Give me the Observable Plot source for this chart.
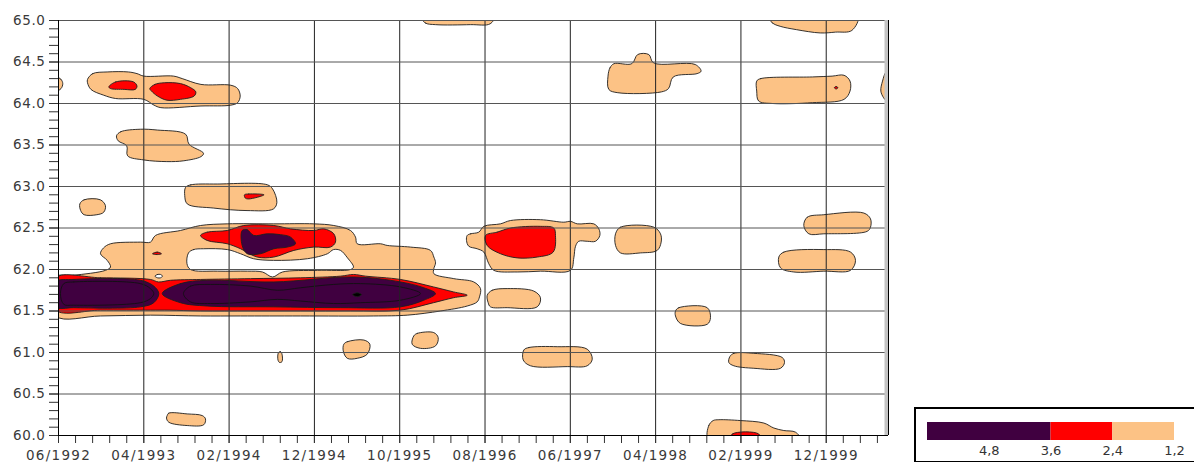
<!DOCTYPE html>
<html><head><meta charset="utf-8">
<script src="https://cdn.jsdelivr.net/npm/d3@7"></script>
<script src="https://cdn.jsdelivr.net/npm/@observablehq/plot@0.6"></script>
<style>
html,body{margin:0;padding:0;background:#fff;}
#wrap{position:relative;width:1194px;height:462px;overflow:hidden;background:#fff;}
#chart{position:absolute;left:0;top:0;}
#legend{position:absolute;left:914px;top:407px;width:300px;height:52px;border:2px solid #000;background:#fff;}
#chart g[aria-label="x-axis tick label"] text{letter-spacing:1.3px;}
#chart g[aria-label="y-axis tick label"] text{letter-spacing:0.6px;}
</style></head><body>
<div id="wrap"><div id="chart"></div><div id="legend"></div></div>
<script>
// x = months since 06/1992, y = latitude
const xTickValues = [0, 10, 20, 30, 40, 50, 60, 70, 80, 90];
const xTickLabels = ["06/1992","04/1993","02/1994","12/1994","10/1995","08/1996","06/1997","04/1998","02/1999","12/1999"];
const yTickValues = [60.0, 60.5, 61.0, 61.5, 62.0, 62.5, 63.0, 63.5, 64.0, 64.5, 65.0];
const xDomain = [0, 97.3];
const yDomain = [60, 65];

const legendBreaks = [6.0, 3.6, 2.4, 1.2];
const legendLabelValues = [4.8, 3.6, 2.4, 1.2];
const legendLabels = ["4,8", "3,6", "2,4", "1,2"];
const levelColors = ["#400040", "#ff0000", "#fcc285"]; // >3.6, 2.4-3.6, 1.2-2.4

// contour regions, level 1.2 (peach)
const level12 = [
  [[3.4,64.29],[4.0,64.36],[5.7,64.38],[8.2,64.38],[9.2,64.36],[10.0,64.33],[13.5,64.33],[14.5,64.30],[16.7,64.23],[20.2,64.22],[21.0,64.18],[21.3,64.09],[21.0,64.01],[20.2,63.98],[16.7,63.97],[12.0,63.95],[11.2,63.98],[10.0,64.05],[6.7,64.06],[5.3,64.10],[3.8,64.17],[3.4,64.25]],
  [[-0.3,64.32],[0.3,64.29],[0.5,64.24],[0.3,64.18],[-0.3,64.15]],
  [[6.8,63.61],[7.3,63.66],[9.6,63.69],[11.6,63.68],[14.9,63.63],[15.3,63.51],[17.0,63.40],[16.7,63.36],[14.7,63.31],[12.7,63.30],[10.0,63.32],[8.1,63.37],[8.0,63.49],[7.0,63.55]],
  [[14.9,62.99],[15.5,63.02],[18.6,63.03],[24.5,63.02],[25.1,62.97],[25.6,62.81],[25.2,62.73],[22.1,62.71],[18.2,62.74],[15.1,62.79],[14.8,62.89]],
  [[2.5,62.79],[3.0,62.84],[4.9,62.84],[5.5,62.77],[5.3,62.69],[4.5,62.66],[3.0,62.66],[2.6,62.71]],
  [[-0.3,61.91],[1.76,61.93],[5.51,61.99],[6.10,62.03],[5.71,62.11],[4.92,62.19],[5.28,62.26],[6.10,62.31],[9.61,62.33],[10.78,62.33],[11.37,62.41],[14.30,62.47],[16.65,62.53],[19.78,62.55],[25.24,62.55],[29.93,62.55],[32.27,62.53],[34.23,62.47],[34.82,62.39],[35.02,62.31],[37.75,62.31],[38.53,62.29],[41.27,62.27],[43.61,62.23],[44.0,62.15],[44.2,62.08],[44.0,62.01],[44.0,61.95],[46.34,61.89],[48.68,61.85],[49.47,61.77],[49.35,61.67],[49.08,61.61],[47.91,61.56],[44.78,61.50],[40.88,61.45],[36.96,61.44],[28.37,61.44],[21.34,61.44],[16.65,61.44],[10.78,61.45],[4.92,61.44],[-0.3,61.44]],
  [[47.91,62.41],[48.30,62.43],[49.27,62.45],[49.86,62.52],[51.81,62.55],[52.99,62.59],[56.50,62.60],[59.24,62.57],[60.02,62.58],[60.81,62.55],[62.75,62.55],[63.34,62.49],[63.46,62.41],[62.95,62.34],[61.98,62.34],[60.99,62.34],[60.61,62.28],[60.41,62.14],[60.02,61.99],[56.50,61.98],[53.77,61.97],[51.03,61.99],[50.44,62.07],[49.86,62.21],[49.08,62.25],[48.10,62.28],[47.83,62.35]],
  [[65.30,62.43],[65.88,62.51],[69.79,62.51],[70.57,62.43],[70.65,62.33],[70.18,62.23],[68.23,62.20],[65.88,62.20],[65.30,62.29]],
  [[87.37,62.53],[87.77,62.63],[89.72,62.66],[94.41,62.68],[95.19,62.61],[95.19,62.51],[94.80,62.46],[89.72,62.43],[87.96,62.43]],
  [[84.44,62.15],[85.03,62.21],[89.72,62.24],[92.85,62.21],[93.43,62.11],[92.85,61.99],[89.72,61.98],[86.20,61.97],[84.64,62.02]],
  [[50.26,61.69],[50.84,61.75],[52.60,61.77],[55.72,61.74],[56.50,61.66],[56.12,61.55],[52.60,61.54],[50.64,61.55],[50.37,61.60]],
  [[72.33,61.50],[72.72,61.54],[76.05,61.54],[76.43,61.42],[76.05,61.34],[72.91,61.35],[72.33,61.44]],
  [[42.5,65.05],[43.0,64.97],[44.2,64.95],[48.3,64.95],[50.6,64.96],[51.1,65.05]],
  [[83.2,65.05],[83.7,64.97],[84.6,64.93],[86.5,64.89],[89.3,64.85],[91.1,64.86],[93.0,64.88],[93.7,65.05]],
  [[64.42,64.33],[64.65,64.43],[65.12,64.48],[67.21,64.48],[67.90,64.59],[69.20,64.59],[69.75,64.49],[74.64,64.47],[75.33,64.39],[74.86,64.36],[72.07,64.32],[71.51,64.18],[70.68,64.14],[65.57,64.13],[64.51,64.17]],
  [[81.85,64.27],[82.32,64.30],[88.37,64.32],[90.69,64.33],[92.09,64.34],[92.79,64.27],[92.79,64.15],[92.09,64.05],[88.37,64.01],[83.72,64.00],[82.08,64.03],[81.85,64.15]],
  [[97.6,64.40],[97.07,64.39],[96.6,64.27],[96.4,64.15],[96.72,64.07],[97.07,64.03],[97.6,64.02]],
  [[25.79,61.00],[26.03,61.01],[26.20,60.98],[26.20,60.89],[25.91,60.88],[25.73,60.91]],
  [[33.45,61.10],[33.85,61.13],[35.80,61.15],[36.50,61.10],[36.19,60.98],[35.02,60.93],[33.85,60.93],[33.38,61.02]],
  [[41.65,61.20],[42.05,61.23],[43.99,61.24],[44.51,61.18],[44.20,61.08],[42.44,61.05],[41.46,61.10]],
  [[54.55,61.03],[55.14,61.06],[58.47,61.07],[61.98,61.04],[62.57,60.92],[61.98,60.84],[59.64,60.83],[55.33,60.84],[54.48,60.91]],
  [[78.70,60.95],[79.17,60.99],[81.51,60.99],[84.84,60.94],[85.11,60.88],[84.64,60.81],[81.51,60.81],[79.17,60.84],[78.58,60.88]],
  [[12.74,60.24],[12.93,60.27],[15.09,60.26],[16.85,60.24],[17.23,60.20],[17.03,60.13],[15.09,60.12],[12.93,60.16],[12.66,60.21]],
  [[76.23,59.95],[76.23,60.12],[76.75,60.18],[77.41,60.19],[79.95,60.18],[82.69,60.15],[83.86,60.09],[85.03,60.06],[86.40,60.04],[86.99,59.95]]
];
// regions below 1.2 enclosed by the 1.2 contour
const holes12 = [
  [[15.24,62.20],[15.83,62.24],[17.0,62.25],[19.81,62.24],[21.34,62.19],[22.86,62.13],[25.2,62.11],[29.19,62.13],[31.53,62.19],[32.24,62.24],[33.06,62.23],[33.88,62.14],[34.58,62.03],[34.23,62.00],[30.36,61.99],[26.26,61.97],[25.09,61.91],[23.91,61.97],[22.16,61.98],[18.64,61.98],[15.47,62.00],[15.06,62.07]],
  [[11.31,61.92],[11.61,61.94],[11.96,61.94],[12.19,61.92],[11.96,61.90],[11.61,61.90]]
];
// level 2.4 (red)
const level24 = [
  [[5.9,64.20],[6.7,64.26],[8.8,64.26],[9.2,64.21],[9.0,64.17],[7.7,64.17],[6.1,64.18]],
  [[10.7,64.18],[11.3,64.23],[12.4,64.25],[14.3,64.24],[15.5,64.19],[16.1,64.14],[15.9,64.09],[14.3,64.05],[12.7,64.04],[11.6,64.09],[10.9,64.15]],
  [[21.8,62.90],[22.3,62.91],[24.1,62.90],[22.3,62.85],[21.9,62.86]],
  [[-0.3,61.90],[4.92,61.90],[10.78,61.88],[11.72,61.85],[13.13,61.87],[16.65,61.88],[22.51,61.89],[28.37,61.90],[33.06,61.92],[34.58,61.94],[35.99,61.92],[40.09,61.88],[43.96,61.79],[46.31,61.73],[47.91,61.69],[46.31,61.66],[43.96,61.60],[40.09,61.51],[34.23,61.50],[28.37,61.50],[22.51,61.50],[16.65,61.50],[12.96,61.51],[10.78,61.51],[4.92,61.51],[-0.3,61.51]],
  [[16.65,62.41],[17.43,62.45],[19.78,62.47],[21.72,62.53],[25.24,62.53],[27.20,62.49],[29.93,62.47],[31.10,62.49],[32.27,62.43],[32.47,62.33],[31.88,62.27],[29.93,62.27],[27.59,62.23],[25.24,62.15],[23.29,62.15],[21.34,62.25],[19.78,62.31],[17.43,62.35]],
  [[11.02,62.19],[11.57,62.21],[12.07,62.19],[11.57,62.18]],
  [[50.06,62.41],[51.43,62.45],[52.99,62.50],[56.50,62.52],[58.06,62.50],[58.26,62.41],[57.99,62.21],[56.12,62.15],[53.77,62.14],[51.81,62.19],[50.25,62.29]],
  [[90.95,64.19],[91.16,64.205],[91.37,64.19],[91.16,64.175]],
  [[78.78,59.95],[79.01,60.02],[82.06,60.02],[82.30,59.95]]
];
// level 3.6 (purple)
const level36 = [
  [[-0.3,61.85],[1.79,61.88],[9.61,61.87],[11.17,61.80],[11.76,61.71],[11.17,61.60],[9.61,61.55],[1.79,61.54],[-0.3,61.55]],
  [[12.16,61.71],[14.30,61.83],[17.43,61.87],[25.24,61.85],[34.62,61.91],[40.09,61.85],[42.82,61.78],[44.19,61.71],[42.82,61.63],[40.09,61.55],[33.06,61.54],[25.24,61.55],[17.43,61.56],[14.30,61.60]],
  [[21.53,62.47],[22.12,62.48],[22.89,62.41],[24.47,62.43],[26.02,62.42],[27.20,62.39],[27.78,62.31],[26.81,62.27],[25.24,62.25],[23.68,62.19],[22.12,62.19],[21.53,62.29]]
];
// level 4.8
const level48 = [
  [[0.62,61.83],[1.79,61.85],[9.61,61.83],[10.78,61.77],[11.17,61.71],[10.78,61.65],[9.61,61.60],[1.79,61.57],[0.62,61.58],[0.23,61.71]],
  [[14.65,61.71],[15.47,61.80],[17.82,61.82],[22.51,61.80],[25.67,61.75],[28.37,61.78],[32.24,61.82],[35.4,61.83],[40.09,61.79],[42.44,61.71],[40.09,61.63],[35.4,61.60],[32.24,61.59],[28.37,61.62],[25.67,61.64],[22.51,61.61],[17.82,61.59],[15.47,61.61]]
];
// level 6.0
const level60 = [
  [[34.47,61.697],[35.02,61.721],[35.52,61.697],[35.02,61.673]]
];

function rows(polys, tag) {
  return polys.flatMap((p, k) => p.map(([m, lat]) => ({id: tag + k, m, lat})));
}
const STROKE = "#1e1e1e";
const area = (polys, tag, fill, extra = {}) =>
  Plot.line(rows(polys, tag), {x: "m", y: "lat", z: "id", fill, stroke: STROKE, strokeWidth: 0.9,
    curve: "catmull-rom-closed", clip: true, ...extra});

const xMinor = d3.range(0, 97, 2);
const yMinor = d3.range(600, 651).map(v => v / 10);

const chart = Plot.plot({
  width: 900, height: 462,
  marginLeft: 58, marginRight: 12, marginTop: 20, marginBottom: 27,
  x: {domain: xDomain, axis: null, label: null},
  y: {domain: yDomain, axis: null, label: null},
  style: {fontFamily: "'DejaVu Sans', sans-serif", fontSize: "13.5px", color: "#3a3a3a", background: "#fff", overflow: "visible"},
  marks: [
    area(level12, "a", levelColors[2]),
    area(holes12, "h", "#fff"),
    area(level24, "r", levelColors[1]),
    area(level36, "p", levelColors[0]),
    area(level48, "q", levelColors[0], {stroke: "#111"}),
    area(level60, "k", "#000"),
    Plot.gridX(xTickValues, {stroke: "#222", strokeOpacity: 1}),
    Plot.gridY(yTickValues, {stroke: "#555", strokeOpacity: 1}),
    Plot.axisX(xMinor, {tickSize: 8, tickFormat: () => "", stroke: "#333", label: null}),
    Plot.axisX(xTickValues, {tickSize: 8, tickPadding: 7, stroke: "#333", label: null,
      tickFormat: d => xTickLabels[xTickValues.indexOf(d)]}),
    Plot.axisY(yMinor, {tickSize: 9, tickFormat: () => "", stroke: "#333", label: null}),
    Plot.axisY(yTickValues, {tickSize: 9, tickPadding: 4, stroke: "#333", label: null, tickFormat: d => d.toFixed(1)}),
    Plot.ruleX([xDomain[0]], {stroke: "#000"}),
    Plot.ruleY([yDomain[0]], {stroke: "#000"}),
    Plot.ruleX([xDomain[1]], {stroke: "#c4c4c4", strokeWidth: 4, dx: -2}),
    Plot.ruleX([xDomain[1]], {stroke: "#000"})
  ]
});
document.getElementById("chart").appendChild(chart);

const legendBins = legendBreaks.slice(0, -1).map((hi, i) => ({hi, lo: legendBreaks[i + 1], color: levelColors[i]}));
const legendText = legendLabelValues.map((v, i) => ({v, label: legendLabels[i]}));
const legend = Plot.plot({
  width: 300, height: 52,
  margin: 0,
  x: {domain: [6.0, 1.2], range: [11, 258], axis: null},
  y: {domain: [0, 1], range: [31, 13], axis: null},
  style: {fontFamily: "'DejaVu Sans', sans-serif", fontSize: "13px", color: "#333", background: "#fff"},
  marks: [
    Plot.rect(legendBins, {x1: "hi", x2: "lo", y1: 0, y2: 1, fill: "color"}),
    Plot.text(legendText, {x: "v", y: 0, text: "label", dy: 10, lineAnchor: "middle", fill: "#333"})
  ]
});
document.getElementById("legend").appendChild(legend);
</script></body></html>
